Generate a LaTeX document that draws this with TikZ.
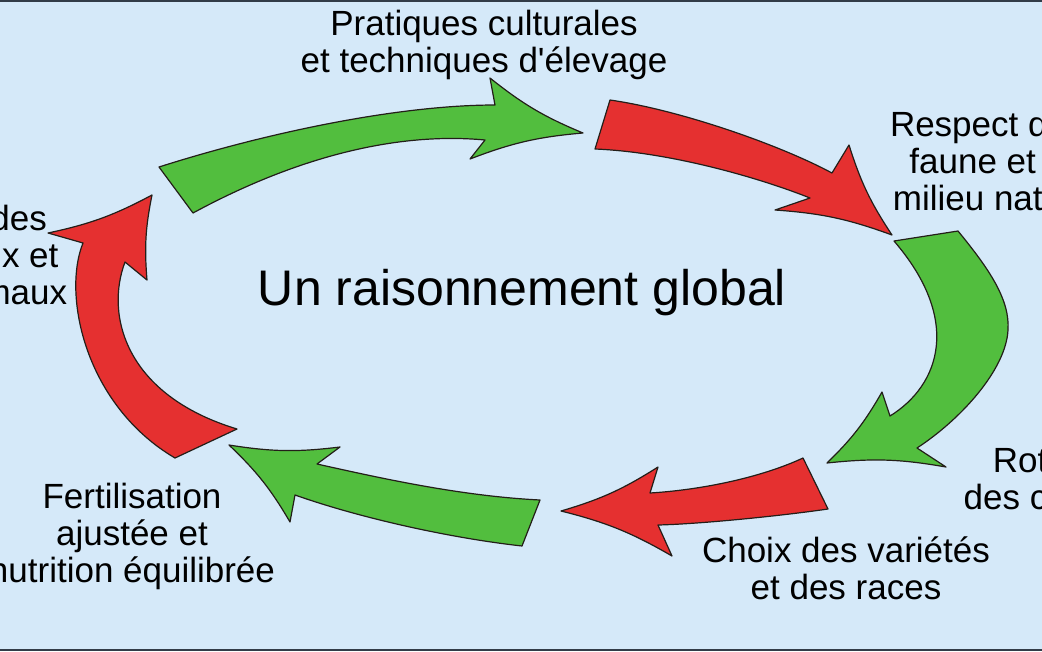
\documentclass[tikz,border=0pt]{standalone}
\usepackage{fontspec}
\setmainfont{Liberation Sans}[Ligatures=TeXOff]
\usetikzlibrary{positioning}
\definecolor{bgblue}{RGB}{213,233,249}
\definecolor{agreen}{RGB}{82,190,62}
\definecolor{ared}{RGB}{229,48,48}
\definecolor{edgecol}{RGB}{35,30,25}
\definecolor{framecol}{RGB}{50,60,72}

\begin{document}
\begin{tikzpicture}[x=1pt, y=-1pt,
    garrow/.style={fill=agreen, draw=edgecol, line width=1.2pt, line join=round},
    rarrow/.style={fill=ared, draw=edgecol, line width=1.2pt, line join=round},
    concave/.style={bend right=8},
    lbl/.style={align=center, font=\fontsize{35}{37}\selectfont, inner sep=0pt}]
        \useasboundingbox (0,0) rectangle (1042,651);
        \fill[bgblue] (0,0) rectangle (1042,651);
        \fill[framecol] (0,0) rectangle (1042,2);
        \fill[framecol] (0,649) rectangle (1042,651);

        \node[lbl] (pratiques) at (484,45) {Pratiques culturales\\et techniques d'élevage};
        \node[lbl] (respect) at (997,161) {Respect de la\\faune et du\\milieu naturel};
        \node[lbl] (rotation) at (1058,478) {Rotation\\des cultures};
        \node[lbl] (choix) at (846,568) {Choix des variétés\\et des races};
        \node[lbl] (fertil) at (132,536) {Fertilisation\\ajustée et\\nutrition équilibrée};
        \node[lbl] (sante) at (-32,255) {Santé des\\végétaux et\\des animaux};
        \node[font=\fontsize{50}{52}\selectfont, inner sep=0pt] (global) at (522,293) {Un raisonnement global};

        \draw[garrow] (159,167) .. controls (269,132) and (400,105) .. (495,105) -- (490,78)
                to[concave] (583,133) to[concave] (470,159) -- (485,140)
                .. controls (400,132) and (300,155) .. (193,213) -- cycle;
        \draw[rarrow] (610,100) .. controls (680,110) and (780,145) .. (832,173) -- (849,145)
                to[concave] (892,235) to[concave] (775,210) -- (810,198)
                .. controls (760,178) and (670,152) .. (595,149) -- cycle;
        \draw[garrow] (894,241) -- (958,231) .. controls (990,270) and (1010,300) .. (1008,330)
                .. controls (1006,370) and (960,420) .. (917,448) -- (946,467)
                to[concave] (827,463) to[concave] (882,392) -- (890,416)
                .. controls (940,385) and (962,320) .. (894,241) -- cycle;
        \draw[rarrow] (803,458) -- (828,509) .. controls (780,516) and (700,524) .. (658,525) -- (672,556)
                to[concave] (561,511) to[concave] (658,467) -- (650,493)
                .. controls (700,490) and (760,478) .. (803,458) -- cycle;
        \draw[garrow] (540,500) -- (522,546) .. controls (450,538) and (360,518) .. (295,495) -- (290,522)
                to[concave] (229,445) to[concave] (340,447) -- (317,464)
                .. controls (380,478) and (460,496) .. (540,500) -- cycle;
        \draw[rarrow] (175,458) .. controls (85,405) and (62,295) .. (83,243) -- (48,233)
                to[concave] (152,195) to[concave] (147,280) -- (125,262)
                .. controls (105,315) and (125,395) .. (237,429) -- cycle;
\end{tikzpicture}
\end{document}
